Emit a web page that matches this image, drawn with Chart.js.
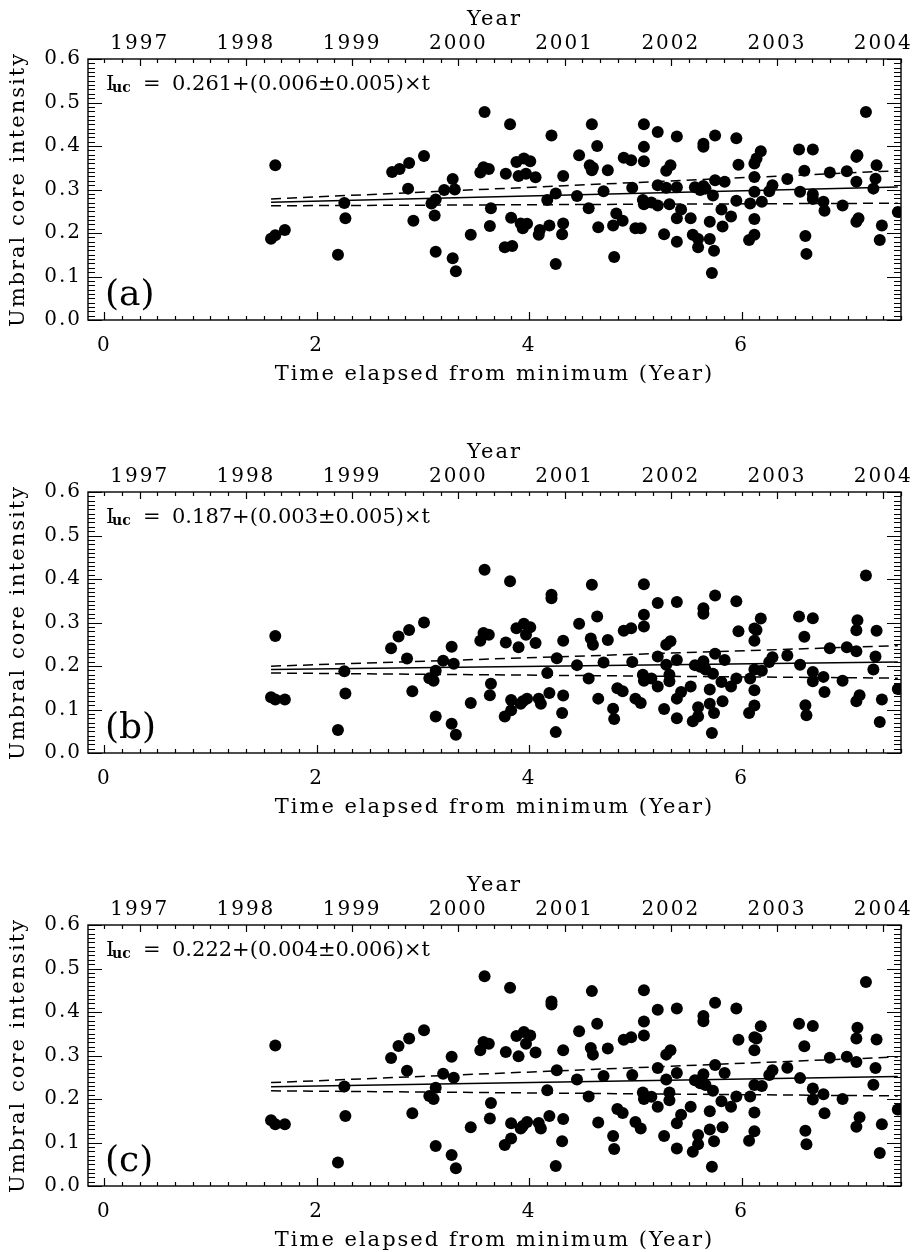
<!DOCTYPE html>
<html>
<head>
<meta charset="utf-8">
<title>Umbral core intensity vs. time</title>
<script src="https://cdn.jsdelivr.net/npm/chart.js@4.4.1/dist/chart.umd.min.js"></script>
<style>
  html, body { margin: 0; padding: 0; background: #fff; overflow: hidden; }
  #wrap { position: relative; width: 914px; height: 1252px; overflow: hidden; background: #fff; }
  #wrap canvas { position: absolute; left: 0; }
</style>
</head>
<body>
<div id="wrap">
  <canvas id="panelA" width="914" height="433" style="top:0px"></canvas>
  <canvas id="panelB" width="914" height="433" style="top:433px"></canvas>
  <canvas id="panelC" width="914" height="433" style="top:866px"></canvas>
</div>
<script>
// time since solar minimum (years) and umbral core intensity, panel (a)
const elapsedA = [
  1.57,1.61,1.61,1.70,2.20,2.26,2.27,2.71,2.78,2.87,
  2.86,2.91,3.01,3.08,3.12,3.11,3.12,3.20,3.28,3.30,
  3.28,3.31,3.45,3.58,3.54,3.57,3.62,3.64,3.63,3.77,
  3.84,3.82,3.78,3.83,3.88,3.95,4.01,3.90,3.97,4.06,
  3.92,3.98,3.94,4.09,4.10,4.19,4.17,4.21,4.25,4.25,
  4.32,4.32,4.31,4.47,4.45,4.59,4.64,4.57,4.60,4.59,
  4.74,4.70,4.56,4.65,4.79,4.80,4.82,4.88,4.89,4.96,
  4.97,5.00,5.05,5.08,5.08,5.08,5.07,5.08,5.15,5.21,
  5.21,5.21,5.27,5.29,5.29,5.33,5.32,5.39,5.39,5.39,
  5.43,5.39,5.52,5.54,5.59,5.59,5.56,5.61,5.64,5.64,
  5.64,5.66,5.70,5.70,5.73,5.74,5.72,5.75,5.75,5.81,
  5.82,5.84,5.90,5.95,5.97,5.95,6.07,6.08,6.12,6.12,
  6.12,6.12,6.12,6.14,6.18,6.19,6.26,6.29,6.43,6.54,
  6.55,6.59,6.60,6.61,6.67,6.67,6.67,6.77,6.78,6.83,
  6.95,6.99,7.08,7.08,7.09,7.08,7.10,7.17,7.24,7.26,
  7.27,7.32,7.30,7.47
];
const coreA = [
  0.187,0.195,0.356,0.207,0.150,0.269,0.234,0.340,0.347,0.361,
  0.302,0.228,0.377,0.268,0.277,0.240,0.157,0.299,0.324,0.300,
  0.142,0.112,0.196,0.478,0.339,0.351,0.347,0.257,0.216,0.167,
  0.170,0.450,0.336,0.235,0.363,0.371,0.365,0.331,0.336,0.328,
  0.222,0.221,0.211,0.196,0.207,0.217,0.276,0.424,0.291,0.129,
  0.331,0.222,0.197,0.379,0.285,0.450,0.400,0.356,0.350,0.344,
  0.344,0.296,0.257,0.213,0.217,0.145,0.245,0.228,0.373,0.367,
  0.304,0.211,0.211,0.450,0.398,0.365,0.276,0.266,0.270,0.263,
  0.432,0.310,0.197,0.304,0.343,0.356,0.266,0.422,0.305,0.234,
  0.254,0.180,0.234,0.196,0.186,0.167,0.305,0.299,0.308,0.405,
  0.398,0.302,0.186,0.226,0.286,0.159,0.108,0.424,0.321,0.254,
  0.215,0.318,0.238,0.418,0.357,0.274,0.184,0.268,0.196,0.232,
  0.295,0.329,0.360,0.371,0.388,0.272,0.296,0.310,0.324,0.392,
  0.295,0.343,0.193,0.152,0.392,0.289,0.278,0.272,0.251,0.339,
  0.263,0.342,0.318,0.375,0.379,0.226,0.234,0.478,0.302,0.325,
  0.356,0.217,0.184,0.248
];

// panels (b) and (c) use the same epochs
const elapsedBC = [
  1.57,1.61,1.61,1.70,2.20,2.26,2.27,2.70,2.77,2.87,
  2.85,2.90,3.01,3.06,3.10,3.12,3.12,3.19,3.27,3.29,
  3.27,3.31,3.45,3.58,3.54,3.57,3.62,3.64,3.63,3.77,
  3.83,3.82,3.78,3.83,3.88,3.95,4.01,3.90,3.97,4.06,
  3.92,3.98,3.94,4.09,4.11,4.19,4.17,4.21,4.21,4.26,
  4.25,4.32,4.32,4.31,4.47,4.45,4.59,4.64,4.58,4.60,
  4.74,4.70,4.56,4.65,4.79,4.80,4.83,4.88,4.89,4.96,
  4.97,5.00,5.05,5.08,5.08,5.08,5.07,5.08,5.15,5.21,
  5.21,5.21,5.27,5.29,5.29,5.33,5.32,5.32,5.39,5.39,
  5.39,5.43,5.39,5.52,5.54,5.59,5.59,5.56,5.61,5.64,
  5.64,5.64,5.66,5.70,5.70,5.73,5.74,5.72,5.75,5.75,
  5.81,5.82,5.84,5.90,5.95,5.97,5.95,6.07,6.08,6.12,
  6.12,6.12,6.12,6.12,6.14,6.18,6.19,6.26,6.29,6.43,
  6.54,6.55,6.59,6.60,6.61,6.67,6.67,6.67,6.77,6.78,
  6.83,6.95,6.99,7.08,7.08,7.09,7.08,7.11,7.17,7.24,
  7.26,7.27,7.32,7.30,7.47
];
const coreB = [
  0.128,0.123,0.269,0.123,0.053,0.188,0.137,0.241,0.268,0.283,
  0.217,0.142,0.300,0.172,0.166,0.189,0.084,0.212,0.244,0.205,
  0.067,0.042,0.115,0.421,0.258,0.276,0.272,0.159,0.133,0.084,
  0.098,0.395,0.254,0.122,0.287,0.297,0.289,0.243,0.272,0.253,
  0.113,0.125,0.119,0.125,0.113,0.138,0.184,0.364,0.356,0.218,
  0.048,0.258,0.132,0.092,0.297,0.202,0.387,0.314,0.263,0.249,
  0.260,0.208,0.171,0.125,0.102,0.078,0.149,0.142,0.281,0.287,
  0.209,0.125,0.115,0.388,0.318,0.291,0.180,0.166,0.171,0.153,
  0.345,0.222,0.101,0.203,0.249,0.257,0.180,0.165,0.347,0.214,
  0.125,0.140,0.080,0.153,0.073,0.105,0.084,0.202,0.198,0.211,
  0.333,0.320,0.192,0.113,0.146,0.182,0.092,0.046,0.362,0.228,
  0.163,0.119,0.214,0.153,0.349,0.280,0.171,0.092,0.171,0.109,
  0.144,0.192,0.258,0.286,0.283,0.309,0.189,0.209,0.220,0.224,
  0.314,0.203,0.267,0.110,0.087,0.310,0.186,0.165,0.175,0.140,
  0.241,0.166,0.243,0.234,0.282,0.305,0.119,0.133,0.408,0.192,
  0.222,0.281,0.123,0.071,0.147
];
const coreC = [
  0.151,0.142,0.323,0.142,0.054,0.229,0.161,0.294,0.322,0.339,
  0.265,0.167,0.358,0.207,0.200,0.226,0.092,0.258,0.297,0.249,
  0.071,0.041,0.135,0.482,0.312,0.331,0.327,0.191,0.155,0.094,
  0.109,0.456,0.308,0.144,0.345,0.354,0.346,0.298,0.327,0.307,
  0.132,0.147,0.138,0.145,0.132,0.161,0.220,0.424,0.417,0.266,
  0.046,0.312,0.154,0.103,0.356,0.245,0.448,0.373,0.317,0.302,
  0.316,0.253,0.206,0.146,0.115,0.085,0.177,0.168,0.336,0.342,
  0.255,0.147,0.132,0.450,0.378,0.346,0.215,0.200,0.205,0.182,
  0.405,0.271,0.115,0.245,0.302,0.312,0.215,0.197,0.408,0.260,
  0.144,0.164,0.086,0.182,0.079,0.117,0.096,0.243,0.236,0.257,
  0.391,0.379,0.232,0.130,0.172,0.219,0.103,0.044,0.421,0.278,
  0.195,0.135,0.260,0.182,0.408,0.336,0.206,0.104,0.206,0.126,
  0.169,0.232,0.312,0.342,0.339,0.367,0.230,0.255,0.266,0.272,
  0.373,0.248,0.321,0.127,0.096,0.368,0.224,0.199,0.211,0.167,
  0.295,0.200,0.297,0.285,0.339,0.364,0.136,0.158,0.469,0.233,
  0.271,0.337,0.142,0.076,0.176
];

// linear fits I = a + (b ± db) t, one entry per panel
const fitIntercept = [0.261, 0.187, 0.222];
const fitSlope     = [0.006, 0.003, 0.004];
const fitSlopeErr  = [0.005, 0.005, 0.006];
const panelTags    = ['(a)', '(b)', '(c)'];

// axes
const timeRange   = [-0.153, 7.5];
const timeTicks   = [0, 2, 4, 6];
const yearTicks   = [1997, 1998, 1999, 2000, 2001, 2002, 2003, 2004];
const minimumEpoch = 1996 + 8 / 12;   // year at t = 0
const intensityTicks = [0.0, 0.1, 0.2, 0.3, 0.4, 0.5, 0.6];

const FONT = 'DejaVu Serif';
Chart.defaults.font.family = FONT;
Chart.defaults.font.size = 20;
Chart.defaults.color = '#000';

// frame, inward ticks on all four sides, fit equation and panel tag
const axisFrame = {
  id: 'axisFrame',
  beforeDraw(chart) {
    // axis labels are set a little loose
    chart.ctx.letterSpacing = '2px';
  },
  afterDraw(chart, args, opts) {
    const { ctx, chartArea, scales } = chart;
    const { left, right, top, bottom } = chartArea;
    ctx.save();
    ctx.letterSpacing = '0px';
    ctx.strokeStyle = '#000';
    ctx.lineWidth = 1.2;
    ctx.beginPath();
    for (let k = 0; k <= 60; k++) {
      const y = Math.round(scales.y.getPixelForValue(k / 100)) + 0.5;
      const len = k % 10 === 0 ? 14 : 7;
      ctx.moveTo(left, y); ctx.lineTo(left + len, y);
      ctx.moveTo(right, y); ctx.lineTo(right - len, y);
    }
    for (let k = 0; k / 6 <= scales.x.max; k++) {
      const x = Math.round(scales.x.getPixelForValue(k / 6)) + 0.5;
      const len = k % 12 === 0 ? 8 : 4;
      ctx.moveTo(x, bottom); ctx.lineTo(x, bottom - len);
    }
    for (let yr = 1996; yr <= 2004; yr++) {
      for (let m = 0; m < 6; m++) {
        const t = yr + m / 6 - minimumEpoch;
        if (t < scales.x2.min || t > scales.x2.max) continue;
        const x = Math.round(scales.x2.getPixelForValue(t)) + 0.5;
        const len = m === 0 ? 7 : 4;
        ctx.moveTo(x, top); ctx.lineTo(x, top + len);
      }
    }
    ctx.stroke();
    ctx.lineWidth = 1.4;
    ctx.strokeRect(left, top, right - left, bottom - top);

    // fit equation
    const [a, b, e] = opts.fit;
    ctx.fillStyle = '#000';
    ctx.textBaseline = 'alphabetic';
    ctx.textAlign = 'left';
    const yb = top + 31;
    ctx.font = `21px "${FONT}"`;
    ctx.fillText('I', left + 18, yb);
    ctx.font = `bold 14px "${FONT}"`;
    ctx.fillText('uc', left + 24, yb + 2);
    ctx.font = `21px "${FONT}"`;
    ctx.fillText('=', left + 55, yb);
    ctx.fillText(`${a.toFixed(3)}+(${b.toFixed(3)}\u00b1${e.toFixed(3)})\u00d7t`, left + 84, yb);

    // panel tag
    ctx.font = `36px "${FONT}"`;
    ctx.fillText(opts.tag, left + 17, top + 246);
    ctx.restore();
  }
};

function fitLine(times, a, slope) {
  const t0 = Math.min(...times), t1 = Math.max(...times);
  return [{ x: t0, y: a + slope * t0 }, { x: t1, y: a + slope * t1 }];
}

function makePanel(canvasId, times, values, idx) {
  const a = fitIntercept[idx], b = fitSlope[idx], e = fitSlopeErr[idx];
  const lineStyle = { type: 'line', borderColor: '#000', borderWidth: 1.5, pointRadius: 0, fill: false, clip: 0 };
  const tickFont = { family: FONT, size: 20 };
  const titleFont = { family: FONT, size: 21 };

  new Chart(document.getElementById(canvasId), {
    type: 'scatter',
    data: {
      datasets: [
        {
          data: times.map((t, i) => ({ x: t, y: values[i] })),
          backgroundColor: '#000',
          borderWidth: 0,
          pointRadius: 6,
          pointHoverRadius: 6,
          clip: 0
        },
        { ...lineStyle, data: fitLine(times, a, b) },
        { ...lineStyle, data: fitLine(times, a, b + e), borderDash: [10, 6] },
        { ...lineStyle, data: fitLine(times, a, b - e), borderDash: [10, 6] }
      ]
    },
    options: {
      responsive: false,
      animation: false,
      events: [],
      layout: { padding: 0 },
      plugins: {
        legend: { display: false },
        tooltip: { enabled: false },
        axisFrame: { fit: [a, b, e], tag: panelTags[idx] }
      },
      scales: {
        x: {
          type: 'linear', position: 'bottom',
          min: timeRange[0], max: timeRange[1],
          afterBuildTicks: s => { s.ticks = timeTicks.map(v => ({ value: v })); },
          afterFit: s => { s.height = 113; },
          grid: { display: false, drawTicks: false },
          border: { display: false },
          ticks: { padding: 14, font: tickFont, maxRotation: 0, autoSkip: false, callback: v => String(v) },
          title: { display: true, text: 'Time elapsed from minimum (Year)', font: titleFont, padding: { top: 0, bottom: 46 } }
        },
        x2: {
          type: 'linear', position: 'top',
          min: timeRange[0], max: timeRange[1],
          afterBuildTicks: s => { s.ticks = yearTicks.map(yr => ({ value: yr - minimumEpoch })); },
          afterFit: s => { s.height = 59; },
          grid: { display: false, drawTicks: false },
          border: { display: false },
          ticks: { padding: 3, font: tickFont, maxRotation: 0, autoSkip: false, callback: v => String(Math.round(v + minimumEpoch)) },
          title: { display: true, text: 'Year', font: titleFont, padding: { top: 7, bottom: 0 } }
        },
        y: {
          type: 'linear', position: 'left',
          min: 0, max: 0.6,
          afterBuildTicks: s => { s.ticks = intensityTicks.map(v => ({ value: v })); },
          afterFit: s => { s.width = 88; },
          grid: { display: false, drawTicks: false },
          border: { display: false },
          ticks: { padding: 6, font: tickFont, callback: v => v.toFixed(1) },
          title: { display: true, text: 'Umbral core intensity', font: titleFont, padding: { top: 6, bottom: 0 } }
        },
        y2: {
          type: 'linear', position: 'right',
          min: 0, max: 0.6,
          afterFit: s => { s.width = 13; },
          grid: { display: false, drawTicks: false },
          border: { display: false },
          ticks: { display: false }
        }
      }
    },
    plugins: [axisFrame]
  });
}

makePanel('panelA', elapsedA, coreA, 0);
makePanel('panelB', elapsedBC, coreB, 1);
makePanel('panelC', elapsedBC, coreC, 2);
</script>
</body>
</html>
